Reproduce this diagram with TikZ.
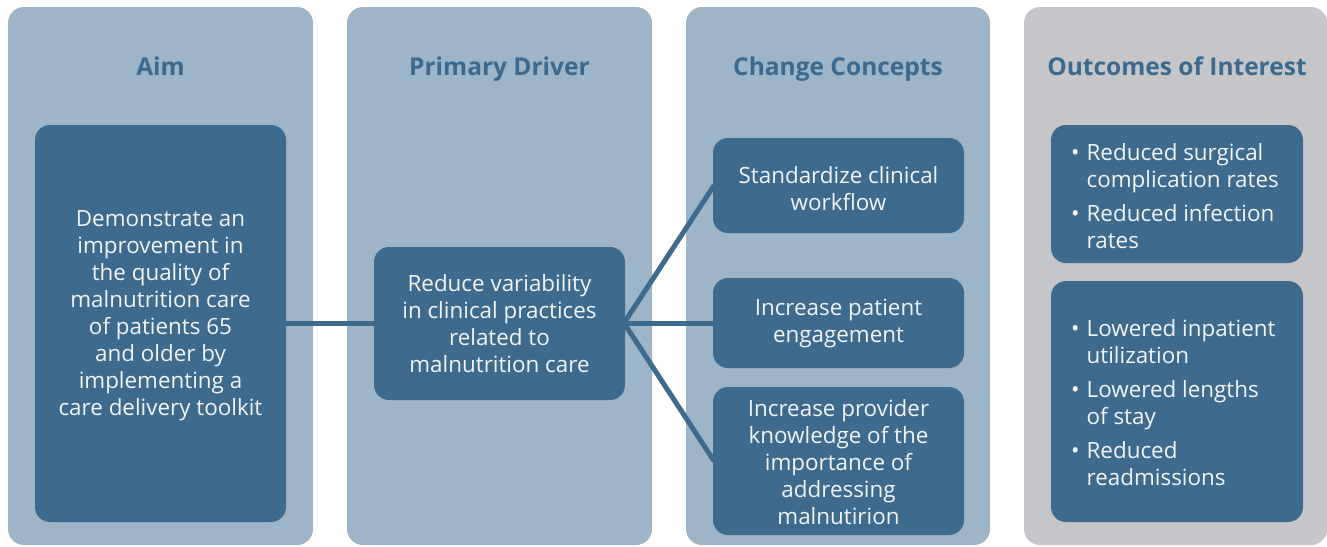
\documentclass[tikz,border=0pt]{standalone}
\usepackage{fontspec}
\setmainfont{Open Sans}
\definecolor{colbg}{HTML}{9EB4C7}
\definecolor{colgrey}{HTML}{C4C6C9}
\definecolor{boxbg}{HTML}{3E6A8D}
\definecolor{titlec}{HTML}{3C6A8E}
\definecolor{boxtext}{HTML}{F2F4F6}
\begin{document}
\begin{tikzpicture}[x=1pt,y=-1pt,
  colblue/.style={fill=colbg, rounded corners=16pt},
  colgray/.style={fill=colgrey, rounded corners=16pt},
  box/.style={fill=boxbg, rounded corners=15pt, text=boxtext, align=center,
    font=\fontsize{22.4}{27}\selectfont, inner sep=0pt},
  boxtxt/.style={text=boxtext, inner sep=0pt, align=center, font=\fontsize{22.4}{27}\selectfont},
  title/.style={text=titlec, anchor=base, font=\bfseries\fontsize{24.5}{28}\selectfont},
  link/.style={draw=boxbg, line width=5pt}]
\useasboundingbox (0,0) rectangle (1327,546);
% columns
\fill[colblue] (8,7) rectangle (313,545);
\fill[colblue] (347,7) rectangle (652,545);
\fill[colblue] (686,7) rectangle (990,545);
\fill[colgray] (1024,7) rectangle (1327,545);
% titles
\node[title] (t1) at (160.5,75) {Aim};
\node[title] (t2) at (499.5,75) {Primary Driver};
\node[title] (t3) at (838,75) {Change Concepts};
\node[title] (t4) at (1177,75) {Outcomes of Interest};
% connectors (behind boxes)
\coordinate (aimE) at (286,323);
\coordinate (pdW) at (374,323);
\coordinate (pdE) at (624,323);
\coordinate (c1W) at (714,185.5);
\coordinate (c2W) at (714,323);
\coordinate (c3W) at (714,461);
\draw[link] (aimE) -- (pdW);
\draw[link] (pdE) -- (c1W);
\draw[link] (pdE) -- (c2W);
\draw[link] (pdE) -- (c3W);
% boxes
\node[box, minimum width=251pt, minimum height=397pt] (aim) at (160.5,323.5) {};
\node[boxtxt] (aimt) at (160.5,316)
  {Demonstrate an\\improvement in\\the quality of\\malnutrition care\\of patients 65\\and older by\\implementing a\\care delivery toolkit};
\node[box, minimum width=251pt, minimum height=153pt] (pd) at (499.5,323.5)
  {Reduce variability\\in clinical practices\\related to\\malnutrition care};
\node[box, minimum width=251pt, minimum height=95pt] (cc1) at (838.5,185.5) {};
\node[boxtxt] (cc1t) at (838.5,188.5) {Standardize clinical\\workflow};
\node[box, minimum width=251pt, minimum height=90pt] (cc2) at (838.5,323)
  {Increase patient\\engagement};
\node[box, minimum width=251pt, minimum height=148pt] (cc3) at (838.5,461) {};
\node[boxtxt] (cc3t) at (838.5,462.5)
  {Increase provider\\knowledge of the\\importance of\\addressing\\malnutirion};
\node[box, minimum width=252pt, minimum height=138pt] (o1) at (1177,194) {};
\node[box, minimum width=252pt, minimum height=241pt] (o2) at (1177,401.5) {};
\node[boxtxt, anchor=west, align=left] (o1t) at (1071,199)
  {\begin{tabular}{@{}l@{\hspace{7pt}}l@{}}
   • & Reduced surgical\\ & complication rates\\[7pt]
   • & Reduced infection\\ & rates
   \end{tabular}};
\node[boxtxt, anchor=west, align=left] (o2t) at (1071,406)
  {\begin{tabular}{@{}l@{\hspace{7pt}}l@{}}
   • & Lowered inpatient\\ & utilization\\[7pt]
   • & Lowered lengths\\ & of stay\\[7pt]
   • & Reduced\\ & readmissions
   \end{tabular}};
\end{tikzpicture}
\end{document}
